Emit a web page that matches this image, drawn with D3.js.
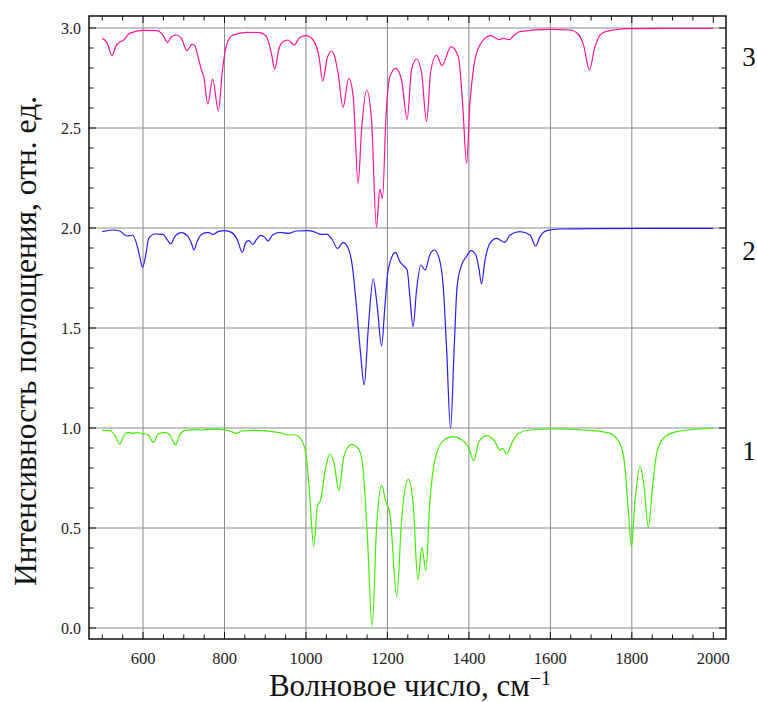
<!DOCTYPE html>
<html>
<head>
<meta charset="utf-8">
<script src="https://cdn.jsdelivr.net/npm/d3@7"></script>
<style>
  html, body { margin: 0; padding: 0; background: #fff; }
</style>
</head>
<body>
<svg id="chart" width="757" height="702"></svg>
<script>
// IR absorption spectra, three samples offset by 1.0 along the intensity axis
const xMajorTicks = [600, 800, 1000, 1200, 1400, 1600, 1800, 2000];
const yMajorTicks = [0.0, 0.5, 1.0, 1.5, 2.0, 2.5, 3.0];
const seriesLabels = ["1", "2", "3"];
const seriesColors = ["#3ff000", "#2a1cf0", "#ff1496"];
const labelLevels = [0.89, 1.89, 2.86];

// sample 1 (wavenumber, intensity)
const spectrum1 = [
  [500,0.988],[518,0.987],[530.5,0.965],[542.8,0.918],[552.6,0.96],[563,0.978],[575,0.973],
  [585,0.978],[596,0.973],[612,0.967],[625.5,0.928],[637,0.97],[653,0.978],[665.6,0.965],
  [680,0.915],[690,0.965],[702.5,0.987],[731,0.992],[747,0.99],[756,0.993],[788,0.993],
  [813,0.985],[829,0.973],[842,0.985],[870,0.988],[936,0.977],[956,0.965],[972.6,0.965],
  [989,0.94],[999.7,0.873],[1007.8,0.707],[1019,0.407],[1028,0.607],[1036.5,0.643],
  [1046,0.773],[1058.6,0.87],[1069,0.823],[1080.7,0.687],[1093,0.857],[1112,0.918],
  [1130.6,0.89],[1140.4,0.79],[1150,0.49],[1162.5,0.01],[1173,0.49],[1185.6,0.713],
  [1196,0.632],[1206,0.573],[1223,0.157],[1234.7,0.54],[1251,0.743],[1263,0.623],
  [1274.8,0.24],[1284.6,0.402],[1294.4,0.287],[1304,0.623],[1316.6,0.84],[1337,0.937],
  [1361.5,0.957],[1384.6,0.937],[1398.3,0.907],[1412,0.837],[1424.6,0.932],[1443.5,0.962],
  [1464,0.932],[1476,0.89],[1482,0.898],[1493,0.87],[1505,0.923],[1521,0.973],[1550,0.99],
  [1615,0.995],[1705,0.987],[1746,0.973],[1771,0.923],[1783,0.807],[1791.4,0.59],
  [1799,0.407],[1808,0.64],[1820,0.81],[1830,0.707],[1840.5,0.503],[1851,0.707],
  [1861,0.873],[1877,0.948],[1910,0.982],[2000,1.0]
];

// sample 2
const spectrum2 = [
  [500,1.982],[526,1.99],[543,1.985],[555,1.965],[563,1.96],[574,1.965],[584,1.923],
  [592,1.857],[598.5,1.803],[606,1.857],[614,1.948],[628.7,1.97],[649,1.968],[659,1.943],
  [668,1.92],[678,1.957],[694,1.977],[710.5,1.957],[719,1.923],[725,1.89],[732.6,1.932],
  [743.5,1.968],[759.7,1.978],[772,1.968],[784,1.982],[800.7,1.987],[817,1.978],[831,1.943],
  [844,1.878],[852,1.927],[860,1.937],[870,1.918],[878.6,1.943],[889,1.963],[899,1.953],
  [907,1.935],[918,1.965],[936,1.978],[956,1.973],[977,1.985],[1001,1.987],[1019,1.982],
  [1038,1.968],[1050.5,1.969],[1065,1.94],[1077.5,1.897],[1091,1.927],[1102,1.907],
  [1114,1.807],[1124,1.607],[1134,1.373],[1143,1.215],[1152.7,1.49],[1165,1.745],
  [1175,1.607],[1185.6,1.41],[1193.7,1.607],[1201.8,1.79],[1220,1.878],[1230.5,1.832],
  [1240,1.81],[1248.5,1.79],[1255,1.657],[1263,1.507],[1271.5,1.69],[1282,1.815],
  [1292.7,1.79],[1304,1.865],[1315,1.89],[1327,1.848],[1337,1.707],[1345,1.407],
  [1355,0.998],[1364,1.407],[1371,1.707],[1382,1.815],[1394,1.857],[1405,1.887],
  [1417,1.865],[1424.6,1.798],[1431,1.72],[1439,1.832],[1451.6,1.923],[1468,1.948],
  [1488.5,1.928],[1500.8,1.965],[1525,1.982],[1550,1.965],[1564,1.91],[1574.5,1.957],
  [1591,1.987],[1623.5,1.995],[1700,1.997],[2000,1.998]
];

// sample 3
const spectrum3 = [
  [500,2.948],[511.6,2.927],[523.9,2.862],[533,2.907],[542.8,2.93],[550.9,2.937],
  [567,2.973],[600,2.988],[633,2.987],[649,2.965],[660,2.927],[670,2.957],[682,2.965],
  [694,2.948],[708,2.887],[720,2.918],[727,2.912],[735,2.857],[743.5,2.79],[749,2.757],
  [759,2.62],[771,2.745],[785,2.585],[795,2.79],[805,2.915],[821,2.965],[854,2.978],
  [886.7,2.977],[903,2.957],[915,2.873],[923.5,2.793],[933,2.89],[944,2.932],[956,2.94],
  [971,2.915],[985,2.953],[1000,2.962],[1017.6,2.94],[1032,2.857],[1041,2.735],
  [1052,2.848],[1062,2.885],[1068,2.873],[1079,2.773],[1091,2.603],[1105,2.748],
  [1116,2.657],[1128,2.223],[1136.5,2.49],[1149,2.69],[1161,2.54],[1173,2.003],
  [1181.4,2.193],[1188,2.148],[1196,2.54],[1206,2.757],[1220.7,2.798],[1234.7,2.74],
  [1248.5,2.543],[1259,2.79],[1271.5,2.845],[1284,2.773],[1296,2.532],[1306.7,2.79],
  [1320.7,2.865],[1333.7,2.812],[1356,2.907],[1374,2.857],[1384.6,2.623],[1394.4,2.323],
  [1402.5,2.623],[1412,2.807],[1427,2.915],[1453,2.962],[1474,2.942],[1484,2.948],
  [1499,2.942],[1509,2.96],[1525,2.982],[1599,2.993],[1648,2.99],[1668.5,2.97],
  [1682.5,2.907],[1695.6,2.79],[1709.5,2.907],[1726,2.973],[1754.5,2.99],[1795.5,2.997],
  [2000,2.998]
];

const spectra = [spectrum1, spectrum2, spectrum3];
const serif = "'Liberation Serif', 'DejaVu Serif', serif";

const svg = d3.select("#chart");
const frame = { left: 89, right: 726, top: 16, bottom: 639 };

const x = d3.scaleLinear().domain([500, 2000]).range([102.3, 713.3]);
const y = d3.scaleLinear().domain([0, 3]).range([628, 28]);

// grid lines
const grid = svg.append("g").attr("stroke", "#8a8a8a").attr("stroke-width", 1);
grid.selectAll("line.gx").data(xMajorTicks.filter(d => d < 2000)).join("line")
  .attr("x1", d => x(d)).attr("x2", d => x(d))
  .attr("y1", frame.top).attr("y2", frame.bottom);
grid.selectAll("line.gy").data(yMajorTicks).join("line")
  .attr("x1", frame.left).attr("x2", frame.right)
  .attr("y1", d => y(d)).attr("y2", d => y(d));

// spectra
const line = d3.line().x(d => x(d[0])).y(d => y(d[1])).curve(d3.curveMonotoneX);
svg.append("g").selectAll("path").data(spectra).join("path")
  .attr("d", line)
  .attr("fill", "none")
  .attr("stroke", (d, i) => seriesColors[i])
  .attr("stroke-width", 1.2);

// inward ticks on all four sides
const xMinor = d3.range(500, 2001, 50);
const yMinor = d3.range(0, 31).map(d => d / 10);
const isMajorX = v => xMajorTicks.includes(v);
const isMajorY = v => yMajorTicks.some(t => Math.abs(t - v) < 1e-9);
const ticks = svg.append("g").attr("stroke", "#111").attr("stroke-width", 1);
xMinor.forEach(v => {
  const len = isMajorX(v) ? 7 : 4.5;
  ticks.append("line").attr("x1", x(v)).attr("x2", x(v)).attr("y1", frame.bottom).attr("y2", frame.bottom - len);
  ticks.append("line").attr("x1", x(v)).attr("x2", x(v)).attr("y1", frame.top).attr("y2", frame.top + len);
});
yMinor.forEach(v => {
  const len = isMajorY(v) ? 7 : 4.5;
  ticks.append("line").attr("x1", frame.left).attr("x2", frame.left + len).attr("y1", y(v)).attr("y2", y(v));
  ticks.append("line").attr("x1", frame.right).attr("x2", frame.right - len).attr("y1", y(v)).attr("y2", y(v));
});

// frame
svg.append("rect")
  .attr("x", frame.left).attr("y", frame.top)
  .attr("width", frame.right - frame.left).attr("height", frame.bottom - frame.top)
  .attr("fill", "none").attr("stroke", "#111").attr("stroke-width", 1.5);

// tick labels
svg.append("g").selectAll("text").data(xMajorTicks).join("text")
  .attr("x", d => x(d)).attr("y", 664)
  .attr("text-anchor", "middle").attr("font-size", 16.5)
  .attr("font-family", serif).attr("fill", "#222")
  .text(d => d);
svg.append("g").selectAll("text").data(yMajorTicks).join("text")
  .attr("x", 81).attr("y", d => y(d) + 5.5)
  .attr("text-anchor", "end").attr("font-size", 16)
  .attr("font-family", serif).attr("fill", "#222")
  .text(d => d.toFixed(1));

// series numbers on the right
svg.append("g").selectAll("text").data(seriesLabels).join("text")
  .attr("x", 749).attr("y", (d, i) => y(labelLevels[i]) + 9.5)
  .attr("text-anchor", "middle").attr("font-size", 27)
  .attr("font-family", serif).attr("fill", "#111")
  .text(d => d);

// axis titles
svg.append("text")
  .attr("transform", "translate(36,341) rotate(-90)")
  .attr("text-anchor", "middle").attr("font-size", 31.5)
  .attr("font-family", serif).attr("fill", "#111")
  .text("Интенсивность поглощения, отн. ед.");

const xt = svg.append("text")
  .attr("x", 410).attr("y", 696)
  .attr("text-anchor", "middle").attr("font-size", 31)
  .attr("font-family", serif).attr("fill", "#111");
xt.append("tspan").text("Волновое число, см");
xt.append("tspan").attr("dy", -11).attr("font-size", 20).text("−1");
</script>
</body>
</html>
